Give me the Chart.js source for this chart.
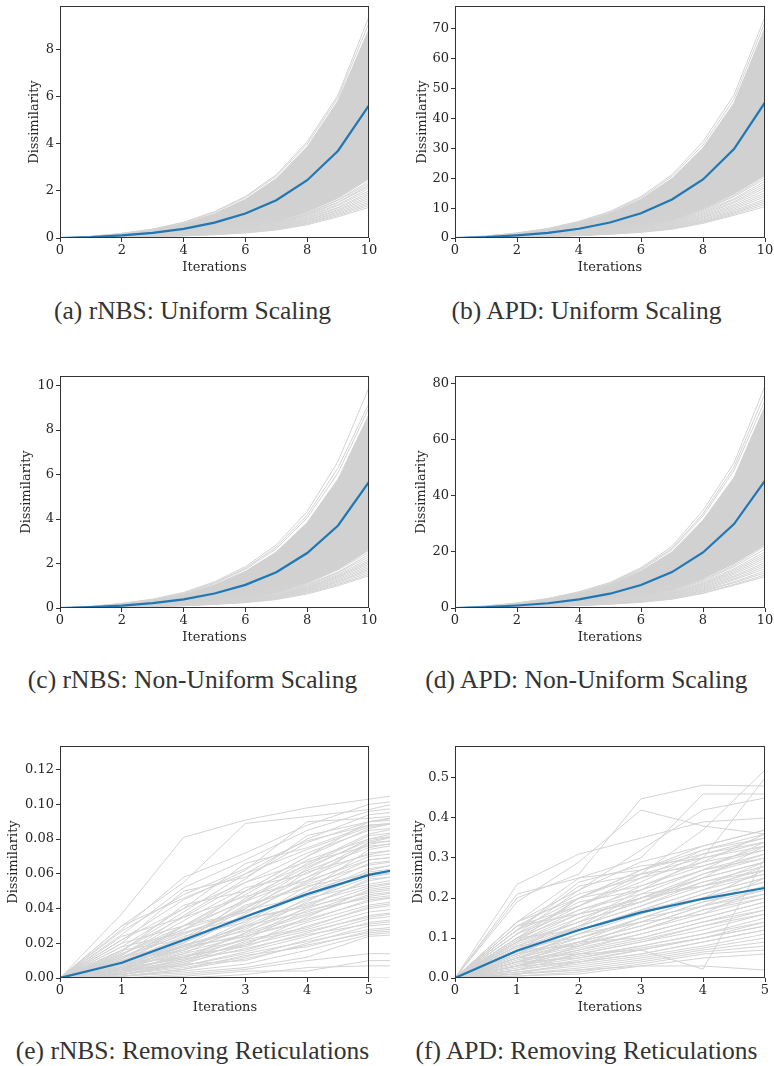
<!DOCTYPE html>
<html>
<head>
<meta charset="utf-8">
<script src="https://cdn.jsdelivr.net/npm/chart.js@4.4.0/dist/chart.umd.min.js"></script>
<style>
  body { margin: 0; background: #fff; width: 774px; height: 1066px; position: relative; overflow: hidden; }
  canvas { position: absolute; }
  .cap { position: absolute; width: 385px; height: 30px; line-height: 30px; text-align: center;
         font-family: "Liberation Serif", "DejaVu Serif", serif; font-size: 25.5px; color: #333; white-space: nowrap; }
</style>
</head>
<body>
<canvas id="chartA" width="387" height="275" style="left:0px;top:0px"></canvas>
<canvas id="chartB" width="379" height="275" style="left:395px;top:0px"></canvas>
<canvas id="chartC" width="387" height="275" style="left:0px;top:370px"></canvas>
<canvas id="chartD" width="379" height="275" style="left:395px;top:370px"></canvas>
<canvas id="chartE" width="390" height="275" style="left:0px;top:740px"></canvas>
<canvas id="chartF" width="379" height="275" style="left:395px;top:740px"></canvas>

<div class="cap" style="left:0px;top:296px">(a) rNBS: Uniform Scaling</div>
<div class="cap" style="left:394px;top:296px">(b) APD: Uniform Scaling</div>
<div class="cap" style="left:0px;top:665px">(c) rNBS: Non-Uniform Scaling</div>
<div class="cap" style="left:394px;top:665px">(d) APD: Non-Uniform Scaling</div>
<div class="cap" style="left:0px;top:1036px">(e) rNBS: Removing Reticulations</div>
<div class="cap" style="left:394px;top:1036px">(f) APD: Removing Reticulations</div>

<script>
// iterations on the x axis
const iters10 = [0, 1, 2, 3, 4, 5, 6, 7, 8, 9, 10];
const iters6 = [0, 1, 2, 3, 4, 5, 6];
const iters5 = [0, 1, 2, 3, 4, 5];
const xTicks10 = [0, 2, 4, 6, 8, 10];
const xTicks5 = [0, 1, 2, 3, 4, 5];

// (a) rNBS uniform scaling
const yTicksA = [0, 2, 4, 6, 8];
const meanA = [0, 0.04, 0.11, 0.22, 0.39, 0.65, 1.04, 1.6, 2.45, 3.7, 5.62];
const bandTopA = [0, 0.06, 0.18, 0.35, 0.61, 1.03, 1.64, 2.52, 3.86, 5.82, 8.85];
const bandBottomA = [0, 0.02, 0.06, 0.11, 0.18, 0.28, 0.43, 0.68, 1.1, 1.69, 2.5];
const linesA = [
  [0, 0.07, 0.2, 0.38, 0.67, 1.12, 1.76, 2.68, 4.08, 6.06, 9.38],
  [0, 0.065, 0.19, 0.37, 0.65, 1.09, 1.72, 2.62, 3.98, 5.95, 9.12],
  [0, 0.01, 0.03, 0.06, 0.09, 0.14, 0.21, 0.34, 0.56, 0.9, 1.3],
  [0, 0.01, 0.03, 0.06, 0.1, 0.15, 0.23, 0.36, 0.6, 0.95, 1.38],
  [0, 0.01, 0.04, 0.07, 0.1, 0.16, 0.24, 0.38, 0.63, 1.0, 1.45],
  [0, 0.02, 0.04, 0.07, 0.11, 0.17, 0.26, 0.41, 0.67, 1.05, 1.52],
  [0, 0.02, 0.04, 0.07, 0.11, 0.18, 0.27, 0.43, 0.7, 1.1, 1.6],
  [0, 0.02, 0.04, 0.08, 0.12, 0.18, 0.29, 0.45, 0.74, 1.16, 1.68],
  [0, 0.02, 0.04, 0.08, 0.12, 0.19, 0.3, 0.47, 0.77, 1.2, 1.76],
  [0, 0.02, 0.05, 0.08, 0.13, 0.2, 0.31, 0.5, 0.81, 1.27, 1.84],
  [0, 0.02, 0.05, 0.09, 0.13, 0.21, 0.33, 0.52, 0.84, 1.3, 1.92],
  [0, 0.02, 0.05, 0.09, 0.14, 0.22, 0.34, 0.54, 0.88, 1.38, 2.0],
  [0, 0.02, 0.05, 0.09, 0.15, 0.23, 0.36, 0.57, 0.92, 1.42, 2.1],
  [0, 0.02, 0.05, 0.1, 0.15, 0.24, 0.37, 0.59, 0.96, 1.5, 2.18],
  [0, 0.02, 0.06, 0.1, 0.16, 0.25, 0.38, 0.61, 0.99, 1.52, 2.25],
  [0, 0.02, 0.06, 0.1, 0.16, 0.26, 0.39, 0.63, 1.02, 1.6, 2.32],
  [0, 0.02, 0.06, 0.11, 0.17, 0.26, 0.41, 0.65, 1.05, 1.62, 2.4],
  [0, 0.03, 0.06, 0.12, 0.18, 0.29, 0.44, 0.7, 1.14, 1.75, 2.6],
  [0, 0.03, 0.07, 0.13, 0.2, 0.31, 0.48, 0.76, 1.22, 1.88, 2.82],
  [0, 0.03, 0.07, 0.13, 0.21, 0.33, 0.51, 0.81, 1.3, 2.0, 3.0],
  [0, 0.03, 0.08, 0.14, 0.22, 0.35, 0.54, 0.86, 1.38, 2.12, 3.2],
  [0, 0.03, 0.08, 0.15, 0.24, 0.38, 0.58, 0.92, 1.48, 2.27, 3.45],
  [0, 0.03, 0.09, 0.16, 0.26, 0.4, 0.62, 0.97, 1.56, 2.4, 3.65]
];

// (b) APD uniform scaling
const yTicksB = [0, 10, 20, 30, 40, 50, 60, 70];
const meanB = [0, 0.3, 0.9, 1.7, 3.1, 5.2, 8.3, 12.9, 19.6, 29.8, 45.4];
const bandTopB = [0, 0.6, 1.6, 3.0, 5.2, 8.3, 13.0, 19.9, 30.2, 45.2, 70.5];
const bandBottomB = [0, 0.21, 0.53, 0.95, 1.58, 2.52, 3.78, 5.88, 9.7, 14.7, 21];
const linesB = [
  [0, 0.7, 1.7, 3.2, 5.6, 8.9, 13.9, 21.2, 32.3, 47.9, 74.1],
  [0, 0.66, 1.66, 3.1, 5.45, 8.65, 13.5, 20.6, 31.2, 46.5, 72.3],
  [0, 0.1, 0.26, 0.47, 0.79, 1.26, 1.89, 2.94, 4.9, 7.6, 10.5],
  [0, 0.11, 0.28, 0.5, 0.84, 1.34, 2.02, 3.14, 5.2, 8.0, 11.2],
  [0, 0.12, 0.3, 0.53, 0.89, 1.42, 2.12, 3.3, 5.4, 8.4, 11.8],
  [0, 0.12, 0.31, 0.56, 0.93, 1.49, 2.23, 3.47, 5.7, 8.8, 12.4],
  [0, 0.13, 0.33, 0.59, 0.98, 1.56, 2.34, 3.64, 6.0, 9.2, 13],
  [0, 0.14, 0.35, 0.62, 1.04, 1.66, 2.48, 3.86, 6.3, 9.7, 13.8],
  [0, 0.15, 0.36, 0.65, 1.09, 1.74, 2.61, 4.06, 6.7, 10.2, 14.5],
  [0, 0.15, 0.38, 0.68, 1.14, 1.82, 2.74, 4.26, 7.0, 10.7, 15.2],
  [0, 0.16, 0.4, 0.72, 1.2, 1.92, 2.88, 4.48, 7.3, 11.2, 16],
  [0, 0.17, 0.42, 0.76, 1.26, 2.02, 3.02, 4.7, 7.7, 11.8, 16.8],
  [0, 0.18, 0.44, 0.79, 1.31, 2.1, 3.15, 4.9, 8.0, 12.2, 17.5],
  [0, 0.18, 0.46, 0.82, 1.37, 2.18, 3.28, 5.1, 8.4, 12.8, 18.2],
  [0, 0.19, 0.48, 0.86, 1.43, 2.28, 3.42, 5.32, 8.7, 13.2, 19],
  [0, 0.2, 0.5, 0.89, 1.49, 2.38, 3.56, 5.54, 9.1, 13.9, 19.8],
  [0, 0.21, 0.51, 0.92, 1.54, 2.46, 3.69, 5.74, 9.4, 14.2, 20.5],
  [0, 0.22, 0.55, 0.99, 1.65, 2.64, 3.96, 6.16, 10, 15.2, 22],
  [0, 0.24, 0.6, 1.08, 1.8, 2.88, 4.32, 6.72, 10.9, 16.5, 24],
  [0, 0.26, 0.65, 1.17, 1.95, 3.12, 4.68, 7.28, 11.8, 17.8, 26],
  [0, 0.29, 0.71, 1.28, 2.14, 3.42, 5.13, 7.98, 12.9, 19.4, 28.5]
];

// (c) rNBS non-uniform scaling
const yTicksC = [0, 2, 4, 6, 8, 10];
const meanC = [0, 0.04, 0.11, 0.22, 0.39, 0.65, 1.04, 1.61, 2.47, 3.71, 5.67];
const bandTopC = [0, 0.06, 0.18, 0.35, 0.62, 1.04, 1.65, 2.52, 3.84, 5.8, 8.7];
const bandBottomC = [0, 0.03, 0.06, 0.12, 0.18, 0.29, 0.44, 0.7, 1.14, 1.75, 2.6];
const linesC = [
  [0, 0.07, 0.21, 0.4, 0.7, 1.18, 1.86, 2.84, 4.34, 6.6, 9.91],
  [0, 0.066, 0.2, 0.38, 0.67, 1.13, 1.79, 2.74, 4.18, 6.3, 9.2],
  [0, 0.065, 0.19, 0.37, 0.65, 1.1, 1.74, 2.66, 4.05, 6.08, 9.0],
  [0, 0.01, 0.04, 0.07, 0.1, 0.16, 0.24, 0.38, 0.63, 1.0, 1.45],
  [0, 0.02, 0.04, 0.07, 0.11, 0.17, 0.26, 0.41, 0.67, 1.05, 1.52],
  [0, 0.02, 0.04, 0.07, 0.11, 0.18, 0.27, 0.43, 0.7, 1.1, 1.6],
  [0, 0.02, 0.04, 0.08, 0.12, 0.18, 0.29, 0.45, 0.74, 1.16, 1.68],
  [0, 0.02, 0.04, 0.08, 0.12, 0.19, 0.3, 0.47, 0.77, 1.2, 1.75],
  [0, 0.02, 0.05, 0.08, 0.13, 0.2, 0.31, 0.49, 0.8, 1.26, 1.82],
  [0, 0.02, 0.05, 0.09, 0.13, 0.21, 0.32, 0.51, 0.84, 1.31, 1.9],
  [0, 0.02, 0.05, 0.09, 0.14, 0.22, 0.34, 0.53, 0.87, 1.37, 1.98],
  [0, 0.02, 0.05, 0.09, 0.14, 0.23, 0.35, 0.55, 0.9, 1.41, 2.05],
  [0, 0.02, 0.05, 0.1, 0.15, 0.23, 0.36, 0.57, 0.93, 1.46, 2.12],
  [0, 0.02, 0.06, 0.1, 0.15, 0.24, 0.37, 0.59, 0.97, 1.52, 2.2],
  [0, 0.02, 0.06, 0.1, 0.16, 0.25, 0.39, 0.62, 1.01, 1.59, 2.3],
  [0, 0.02, 0.06, 0.11, 0.17, 0.26, 0.41, 0.65, 1.05, 1.62, 2.4],
  [0, 0.03, 0.06, 0.11, 0.18, 0.28, 0.43, 0.68, 1.1, 1.72, 2.5],
  [0, 0.03, 0.07, 0.12, 0.19, 0.3, 0.47, 0.74, 1.2, 1.85, 2.75],
  [0, 0.03, 0.07, 0.13, 0.21, 0.32, 0.5, 0.8, 1.28, 1.98, 2.95],
  [0, 0.03, 0.08, 0.14, 0.22, 0.35, 0.54, 0.85, 1.36, 2.1, 3.15],
  [0, 0.03, 0.08, 0.15, 0.23, 0.36, 0.56, 0.89, 1.42, 2.2, 3.3]
];

// (d) APD non-uniform scaling
const yTicksD = [0, 20, 40, 60, 80];
const meanD = [0, 0.3, 0.9, 1.7, 3.1, 5.1, 8.2, 12.8, 19.8, 29.9, 45.4];
const bandTopD = [0, 0.62, 1.62, 3.05, 5.25, 8.35, 13.2, 20.0, 31.3, 46.5, 72];
const bandBottomD = [0, 0.23, 0.56, 1.01, 1.69, 2.7, 4.05, 6.3, 10.4, 15.8, 22.5];
const linesD = [
  [0, 0.72, 1.8, 3.4, 5.8, 9.1, 14.4, 22.0, 34.8, 51.7, 79.2],
  [0, 0.68, 1.75, 3.3, 5.6, 8.8, 14.0, 21.3, 33.6, 50.2, 76.5],
  [0, 0.66, 1.7, 3.2, 5.5, 8.6, 13.7, 20.8, 32.8, 49.0, 74.0],
  [0, 0.11, 0.28, 0.5, 0.84, 1.34, 2.02, 3.14, 5.2, 8.1, 11.2],
  [0, 0.12, 0.3, 0.53, 0.89, 1.42, 2.12, 3.3, 5.4, 8.4, 11.8],
  [0, 0.13, 0.31, 0.56, 0.94, 1.5, 2.25, 3.5, 5.8, 9.0, 12.5],
  [0, 0.13, 0.33, 0.59, 0.99, 1.58, 2.38, 3.7, 6.1, 9.3, 13.2],
  [0, 0.14, 0.35, 0.63, 1.05, 1.68, 2.52, 3.92, 6.4, 10.0, 14],
  [0, 0.15, 0.37, 0.67, 1.11, 1.78, 2.66, 4.14, 6.8, 10.4, 14.8],
  [0, 0.16, 0.39, 0.7, 1.16, 1.86, 2.79, 4.34, 7.1, 11.0, 15.5],
  [0, 0.16, 0.41, 0.73, 1.22, 1.94, 2.92, 4.54, 7.5, 11.4, 16.2],
  [0, 0.17, 0.43, 0.77, 1.28, 2.04, 3.06, 4.76, 7.8, 12.0, 17],
  [0, 0.18, 0.45, 0.8, 1.34, 2.14, 3.2, 4.98, 8.2, 12.5, 17.8],
  [0, 0.19, 0.46, 0.83, 1.39, 2.22, 3.33, 5.18, 8.5, 13.0, 18.5],
  [0, 0.19, 0.48, 0.86, 1.44, 2.3, 3.46, 5.38, 8.8, 13.5, 19.2],
  [0, 0.2, 0.5, 0.9, 1.5, 2.4, 3.6, 5.6, 9.2, 14.0, 20],
  [0, 0.21, 0.53, 0.95, 1.58, 2.52, 3.78, 5.88, 9.7, 14.7, 21],
  [0, 0.22, 0.55, 0.99, 1.65, 2.64, 3.96, 6.16, 10, 15.2, 22],
  [0, 0.24, 0.6, 1.08, 1.8, 2.88, 4.32, 6.72, 10.9, 16.5, 24],
  [0, 0.26, 0.65, 1.17, 1.95, 3.12, 4.68, 7.28, 11.8, 17.8, 26],
  [0, 0.29, 0.71, 1.28, 2.14, 3.42, 5.13, 7.98, 12.9, 19.4, 28.5]
];

// (e) rNBS removing reticulations (runs go one step past the axis)
const yTicksE = [0, 0.02, 0.04, 0.06, 0.08, 0.1, 0.12];
const meanE = [0, 0.0088, 0.0219, 0.0353, 0.0483, 0.0594, 0.066];
const linesE = [
  [0, 0.037, 0.081, 0.091, 0.098, 0.103, 0.108],
  [0, 0.03, 0.055, 0.089, 0.093, 0.097, 0.105],
  [0, 0.028, 0.058, 0.072, 0.088, 0.1, 0.104],
  [0, 0.025, 0.052, 0.068, 0.085, 0.096, 0.1],
  [0, 0.022, 0.045, 0.062, 0.09, 0.092, 0.095],
  [0, 0.02, 0.05, 0.058, 0.078, 0.09, 0.092],
  [0, 0.018, 0.04, 0.066, 0.075, 0.088, 0.09],
  [0, 0.016, 0.035, 0.055, 0.072, 0.085, 0.088],
  [0, 0.015, 0.042, 0.05, 0.065, 0.082, 0.086],
  [0, 0.014, 0.03, 0.048, 0.068, 0.08, 0.084],
  [0, 0.013, 0.033, 0.052, 0.06, 0.078, 0.08],
  [0, 0.012, 0.028, 0.045, 0.062, 0.075, 0.082],
  [0, 0.012, 0.025, 0.04, 0.058, 0.072, 0.076],
  [0, 0.011, 0.03, 0.038, 0.055, 0.07, 0.074],
  [0, 0.01, 0.022, 0.042, 0.052, 0.068, 0.072],
  [0, 0.01, 0.026, 0.035, 0.05, 0.066, 0.07],
  [0, 0.009, 0.02, 0.036, 0.048, 0.063, 0.068],
  [0, 0.009, 0.024, 0.032, 0.053, 0.06, 0.066],
  [0, 0.008, 0.018, 0.03, 0.045, 0.058, 0.064],
  [0, 0.008, 0.021, 0.034, 0.042, 0.056, 0.062],
  [0, 0.007, 0.016, 0.028, 0.046, 0.054, 0.06],
  [0, 0.007, 0.019, 0.027, 0.04, 0.052, 0.058],
  [0, 0.006, 0.014, 0.03, 0.038, 0.05, 0.055],
  [0, 0.006, 0.017, 0.025, 0.036, 0.048, 0.052],
  [0, 0.005, 0.012, 0.022, 0.039, 0.046, 0.05],
  [0, 0.005, 0.015, 0.024, 0.034, 0.044, 0.05],
  [0, 0.004, 0.01, 0.02, 0.032, 0.042, 0.047],
  [0, 0.004, 0.013, 0.018, 0.03, 0.04, 0.045],
  [0, 0.003, 0.009, 0.021, 0.028, 0.038, 0.042],
  [0, 0.003, 0.011, 0.016, 0.026, 0.036, 0.04],
  [0, 0.002, 0.007, 0.015, 0.024, 0.034, 0.038],
  [0, 0.002, 0.006, 0.012, 0.022, 0.032, 0.036],
  [0, 0.002, 0.008, 0.01, 0.02, 0.03, 0.033],
  [0, 0.001, 0.005, 0.013, 0.018, 0.027, 0.03],
  [0, 0.001, 0.004, 0.008, 0.016, 0.025, 0.028],
  [0, 0.001, 0.003, 0.006, 0.012, 0.024, 0.026],
  [0, 0.0, 0.002, 0.005, 0.01, 0.014, 0.014],
  [0, 0.0, 0.001, 0.004, 0.004, 0.01, 0.01],
  [0, 0.0, 0.0, 0.002, 0.006, 0.007, 0.007],
  [0, 0.0, 0.0, 0.0, 0.0, 0.0, 0.0],
  [0, 0.016, 0.038, 0.06, 0.08, 0.094, 0.098],
  [0, 0.013, 0.036, 0.057, 0.082, 0.09, 0.096],
  [0, 0.011, 0.027, 0.05, 0.07, 0.086, 0.094],
  [0, 0.009, 0.023, 0.044, 0.066, 0.083, 0.09],
  [0, 0.007, 0.02, 0.04, 0.063, 0.08, 0.088],
  [0, 0.006, 0.018, 0.037, 0.056, 0.078, 0.086],
  [0, 0.005, 0.016, 0.033, 0.05, 0.074, 0.08],
  [0, 0.004, 0.012, 0.026, 0.044, 0.062, 0.07],
  [0, 0.003, 0.01, 0.023, 0.041, 0.057, 0.06],
  [0, 0.002, 0.008, 0.019, 0.035, 0.051, 0.056],
  [0, 0.02, 0.03, 0.05, 0.07, 0.09, 0.095],
  [0, 0.012, 0.02, 0.046, 0.064, 0.079, 0.085],
  [0, 0.03, 0.046, 0.06, 0.074, 0.087, 0.092],
  [0, 0.008, 0.03, 0.044, 0.058, 0.077, 0.083],
  [0, 0.018, 0.026, 0.038, 0.061, 0.071, 0.078],
  [0, 0.005, 0.022, 0.041, 0.054, 0.065, 0.07],
  [0, 0.024, 0.035, 0.047, 0.056, 0.068, 0.072],
  [0, 0.01, 0.016, 0.031, 0.05, 0.061, 0.066],
  [0, 0.014, 0.028, 0.039, 0.047, 0.059, 0.063],
  [0, 0.004, 0.019, 0.029, 0.043, 0.053, 0.058],
  [0, 0.016, 0.022, 0.034, 0.041, 0.049, 0.054],
  [0, 0.006, 0.011, 0.026, 0.037, 0.047, 0.052],
  [0, 0.01, 0.018, 0.024, 0.033, 0.045, 0.049],
  [0, 0.003, 0.014, 0.022, 0.029, 0.041, 0.046],
  [0, 0.008, 0.012, 0.019, 0.027, 0.035, 0.04],
  [0, 0.002, 0.009, 0.017, 0.025, 0.031, 0.035],
  [0, 0.005, 0.007, 0.014, 0.021, 0.028, 0.031],
  [0, 0.001, 0.005, 0.011, 0.019, 0.026, 0.029],
  [0, 0.022, 0.04, 0.055, 0.067, 0.076, 0.079],
  [0, 0.027, 0.048, 0.063, 0.079, 0.088, 0.091]
];

// (f) APD removing reticulations
const yTicksF = [0, 0.1, 0.2, 0.3, 0.4, 0.5];
const meanF = [0, 0.068, 0.12, 0.164, 0.198, 0.225];
const linesF = [
  [0, 0.234, 0.31, 0.35, 0.39, 0.4],
  [0, 0.2, 0.26, 0.448, 0.482, 0.48],
  [0, 0.19, 0.29, 0.42, 0.38, 0.36],
  [0, 0.21, 0.25, 0.3, 0.46, 0.46],
  [0, 0.14, 0.22, 0.32, 0.42, 0.45],
  [0, 0.12, 0.24, 0.28, 0.3, 0.5],
  [0, 0.1, 0.2, 0.26, 0.37, 0.52],
  [0, 0.14, 0.25, 0.27, 0.33, 0.37],
  [0, 0.13, 0.21, 0.25, 0.32, 0.35],
  [0, 0.12, 0.18, 0.24, 0.31, 0.34],
  [0, 0.11, 0.19, 0.22, 0.3, 0.33],
  [0, 0.1, 0.16, 0.23, 0.28, 0.32],
  [0, 0.095, 0.17, 0.21, 0.27, 0.31],
  [0, 0.09, 0.15, 0.2, 0.26, 0.3],
  [0, 0.085, 0.14, 0.19, 0.25, 0.29],
  [0, 0.08, 0.13, 0.18, 0.24, 0.28],
  [0, 0.075, 0.125, 0.2, 0.23, 0.27],
  [0, 0.07, 0.12, 0.17, 0.22, 0.26],
  [0, 0.065, 0.11, 0.16, 0.21, 0.25],
  [0, 0.06, 0.1, 0.15, 0.2, 0.24],
  [0, 0.055, 0.11, 0.14, 0.19, 0.23],
  [0, 0.05, 0.09, 0.13, 0.18, 0.22],
  [0, 0.05, 0.085, 0.12, 0.17, 0.21],
  [0, 0.045, 0.08, 0.14, 0.16, 0.2],
  [0, 0.04, 0.075, 0.11, 0.15, 0.19],
  [0, 0.04, 0.07, 0.1, 0.14, 0.18],
  [0, 0.035, 0.065, 0.095, 0.13, 0.17],
  [0, 0.03, 0.06, 0.09, 0.12, 0.16],
  [0, 0.03, 0.055, 0.08, 0.11, 0.15],
  [0, 0.025, 0.05, 0.075, 0.1, 0.14],
  [0, 0.02, 0.045, 0.07, 0.1, 0.13],
  [0, 0.02, 0.04, 0.06, 0.09, 0.12],
  [0, 0.015, 0.035, 0.055, 0.08, 0.11],
  [0, 0.015, 0.03, 0.05, 0.075, 0.1],
  [0, 0.01, 0.025, 0.045, 0.07, 0.09],
  [0, 0.01, 0.02, 0.04, 0.065, 0.08],
  [0, 0.005, 0.015, 0.035, 0.06, 0.07],
  [0, 0.005, 0.01, 0.03, 0.05, 0.06],
  [0, 0.01, 0.02, 0.03, 0.03, 0.02],
  [0, 0.05, 0.06, 0.07, 0.022, 0.3],
  [0, 0.13, 0.18, 0.26, 0.28, 0.33],
  [0, 0.12, 0.2, 0.23, 0.29, 0.36],
  [0, 0.11, 0.17, 0.22, 0.27, 0.34],
  [0, 0.09, 0.16, 0.2, 0.25, 0.33],
  [0, 0.08, 0.14, 0.19, 0.26, 0.31],
  [0, 0.07, 0.13, 0.18, 0.23, 0.29],
  [0, 0.06, 0.12, 0.17, 0.22, 0.28],
  [0, 0.05, 0.1, 0.15, 0.2, 0.27],
  [0, 0.04, 0.09, 0.13, 0.18, 0.25],
  [0, 0.03, 0.08, 0.12, 0.16, 0.23],
  [0, 0.14, 0.2, 0.27, 0.31, 0.35],
  [0, 0.12, 0.23, 0.26, 0.3, 0.34],
  [0, 0.1, 0.18, 0.25, 0.29, 0.32],
  [0, 0.09, 0.14, 0.22, 0.27, 0.3],
  [0, 0.07, 0.15, 0.2, 0.25, 0.29],
  [0, 0.13, 0.16, 0.19, 0.24, 0.27],
  [0, 0.06, 0.13, 0.21, 0.23, 0.26],
  [0, 0.1, 0.12, 0.16, 0.21, 0.25],
  [0, 0.05, 0.11, 0.17, 0.2, 0.24],
  [0, 0.08, 0.1, 0.14, 0.19, 0.22],
  [0, 0.04, 0.09, 0.15, 0.18, 0.21],
  [0, 0.07, 0.08, 0.12, 0.17, 0.2],
  [0, 0.03, 0.07, 0.11, 0.15, 0.19],
  [0, 0.06, 0.09, 0.1, 0.14, 0.17],
  [0, 0.02, 0.06, 0.09, 0.13, 0.16],
  [0, 0.04, 0.05, 0.08, 0.11, 0.14],
  [0, 0.01, 0.04, 0.07, 0.1, 0.13],
  [0, 0.03, 0.04, 0.06, 0.09, 0.12],
  [0, 0.11, 0.22, 0.29, 0.33, 0.37],
  [0, 0.09, 0.2, 0.27, 0.32, 0.36]
];

const BLUE = '#1f77b4';
const GRAY = '#d3d3d3';
const BAND = '#d0d1d0';
const INK = '#262626';
const FONT = '"DejaVu Serif", "Liberation Serif", serif';

// axes frame on all four sides, drawn over the lines like matplotlib spines
const framePlugin = {
    id: 'frame',
    afterDatasetsDraw(chart, args, opts) {
        const a = chart.chartArea;
        const ctx = chart.ctx;
        const right = opts.xEnd !== undefined ? chart.scales.x.getPixelForValue(opts.xEnd) : a.right;
        ctx.save();
        ctx.strokeStyle = '#333';
        ctx.lineWidth = 1;
        ctx.strokeRect(Math.round(a.left) + 0.5, Math.round(a.top) + 0.5,
            Math.round(right - a.left) - 1, Math.round(a.bottom - a.top) - 1);
        ctx.restore();
    }
};

function drawPanel(id, p) {
    const datasets = [];
    datasets.push({ data: p.mean, borderColor: BLUE, borderWidth: 2.2 });
    p.lines.forEach(l => datasets.push({ data: l, borderColor: GRAY, borderWidth: 1 }));
    if (p.bandTop) {
        datasets.push({ data: p.bandTop, borderColor: BAND, backgroundColor: BAND, borderWidth: 1, fill: '+1' });
        datasets.push({ data: p.bandBottom, borderColor: BAND, borderWidth: 1 });
    }
    datasets.forEach(d => {
        d.pointRadius = 0;
        d.tension = 0;
    });

    const tickFont = { family: FONT, size: 13 };
    new Chart(document.getElementById(id), {
        type: 'line',
        data: { labels: p.labels, datasets: datasets },
        plugins: [framePlugin],
        options: {
            responsive: false,
            animation: false,
            devicePixelRatio: 1,
            layout: { padding: { left: 0, top: 6, right: p.padRight, bottom: 0 } },
            plugins: {
                legend: { display: false },
                tooltip: { enabled: false },
                frame: { xEnd: p.xEnd }
            },
            scales: {
                x: {
                    type: 'linear',
                    min: 0,
                    max: p.xMax,
                    afterBuildTicks: s => { s.ticks = p.xTicks.map(v => ({ value: v })); },
                    afterFit: s => { s.height = 37; s.paddingLeft = 0; s.paddingRight = 0; },
                    border: { display: false },
                    grid: { drawOnChartArea: false, drawTicks: true, tickLength: 4, color: '#333' },
                    ticks: { color: INK, font: tickFont, padding: 1, maxRotation: 0, autoSkip: false },
                    title: { display: true, text: 'Iterations', color: INK, font: tickFont, padding: 0 }
                },
                y: {
                    type: 'linear',
                    min: 0,
                    max: p.yMax,
                    afterBuildTicks: s => { s.ticks = p.yTicks.map(v => ({ value: v })); },
                    afterFit: s => { s.width = 60; s.paddingTop = 0; s.paddingBottom = 0; },
                    border: { display: false },
                    grid: { drawOnChartArea: false, drawTicks: true, tickLength: 4, color: '#333' },
                    ticks: {
                        color: INK, font: tickFont, padding: 2, autoSkip: false,
                        callback: v => v.toFixed(p.decimals)
                    },
                    title: {
                        display: true, text: 'Dissimilarity', color: INK, font: tickFont,
                        padding: { top: p.yTitlePad, bottom: 0 }
                    }
                }
            }
        }
    });
}

drawPanel('chartA', { labels: iters10, xTicks: xTicks10, xMax: 10, yMax: 9.83, yTicks: yTicksA, decimals: 0,
    mean: meanA, lines: linesA, bandTop: bandTopA, bandBottom: bandBottomA, padRight: 18, yTitlePad: 27 });
drawPanel('chartB', { labels: iters10, xTicks: xTicks10, xMax: 10, yMax: 77.7, yTicks: yTicksB, decimals: 0,
    mean: meanB, lines: linesB, bandTop: bandTopB, bandBottom: bandBottomB, padRight: 9, yTitlePad: 19.5 });
drawPanel('chartC', { labels: iters10, xTicks: xTicks10, xMax: 10, yMax: 10.43, yTicks: yTicksC, decimals: 0,
    mean: meanC, lines: linesC, bandTop: bandTopC, bandBottom: bandBottomC, padRight: 18, yTitlePad: 19 });
drawPanel('chartD', { labels: iters10, xTicks: xTicks10, xMax: 10, yMax: 82.7, yTicks: yTicksD, decimals: 0,
    mean: meanD, lines: linesD, bandTop: bandTopD, bandBottom: bandBottomD, padRight: 9, yTitlePad: 19 });
// the axis box stops at 5, the runs are drawn on to the edge of the figure
drawPanel('chartE', { labels: iters6, xTicks: xTicks5, xMax: 5.34, xEnd: 5, yMax: 0.1336, yTicks: yTicksE, decimals: 2,
    mean: meanE, lines: linesE, padRight: 0, yTitlePad: 5.5 });
drawPanel('chartF', { labels: iters5, xTicks: xTicks5, xMax: 5, yMax: 0.58, yTicks: yTicksF, decimals: 1,
    mean: meanF, lines: linesF, padRight: 9, yTitlePad: 15.5 });
</script>
</body>
</html>
